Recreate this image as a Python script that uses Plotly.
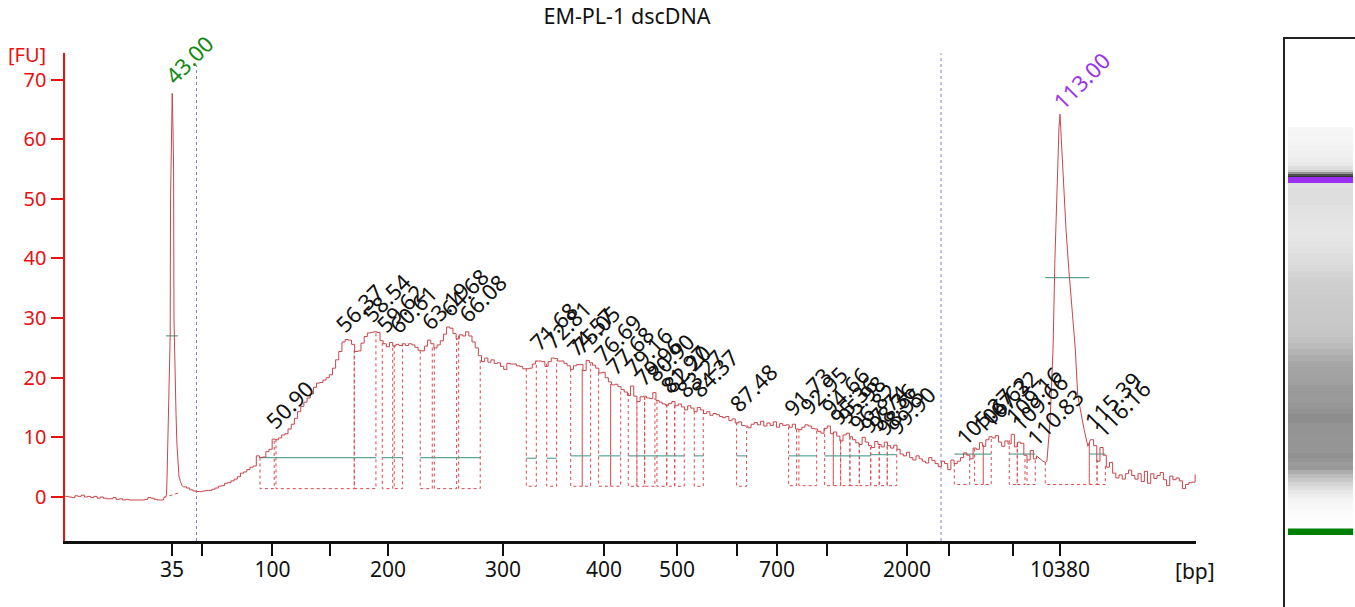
import numpy as np
import plotly.graph_objects as go

W, H = 1355, 607

# Electropherogram: migration time [s] vs fluorescence [FU]
left_step_t0, main_t0, tail_t0, grid_step = 34.6, 43.9, 115.4, 0.25

baseline_fu = [0.1,0.0,-0.1,0.2,0.1,0.3,0.0,0.1,-0.1,0.1,-0.2,0.0,-0.2,-0.3,-0.3,-0.1,
               -0.4,-0.3,-0.5,-0.4,-0.5,-0.5,-0.5,-0.5,-0.5,-0.4,-0.1,-0.2,-0.4,-0.5,-0.5,-0.2]

peak43_t  = [42.35,42.57,42.61,42.72,42.86,42.89,42.96,43.02,43.08,43.13,43.16,43.24,43.32,43.39,43.47,43.55,43.67,43.79,43.9]
peak43_fu = [-0.2,0.3,3,16,27,50,62,67.7,62,55,30,20,14,9,6,3.5,2.6,1.9,1.7]

main_fu = [
 1.7,1.5,1.2,1.0,0.9,0.9,1.0,1.1,1.1,1.3,
 1.5,1.8,1.9,2.3,2.4,2.7,3.0,3.4,4.0,4.2,
 4.6,5.0,5.2,6.9,6.6,6.7,7.6,8.0,9.7,9.6,
 9.9,10.4,10.6,11.4,12.2,13.2,14.3,15.2,15.9,16.6,
 17.3,18.4,19.1,19.2,19.6,20.0,20.5,21.6,23.0,24.4,
 26.0,26.4,26.3,25.6,24.4,24.5,25.8,26.9,27.5,27.6,
 27.7,27.6,26.2,25.7,25.2,25.9,25.3,25.6,25.4,25.7,
 25.4,25.7,25.5,25.1,24.6,24.5,25.3,26.3,25.7,25.0,
 25.5,26.2,27.3,28.5,28.3,27.4,26.5,27.2,27.0,27.7,
 27.0,26.0,25.0,23.7,22.7,23.3,22.6,23.0,22.4,22.5,
 21.9,21.4,22.4,22.3,22.3,22.0,21.9,21.5,21.5,21.6,
 22.3,22.8,22.8,22.7,21.9,22.7,23.3,23.2,22.8,22.8,
 22.4,22.0,21.4,22.0,22.2,22.2,21.2,22.9,22.5,22.1,
 21.6,20.8,20.9,20.0,19.3,18.8,18.9,18.5,18.0,17.6,
 17.0,18.6,16.9,16.0,16.8,16.9,16.6,16.5,17.5,16.2,
 15.9,15.6,15.4,15.7,16.0,15.3,15.6,15.1,14.6,15.3,
 14.9,14.3,15.0,14.6,14.0,14.3,13.7,14.0,13.8,13.5,
 13.3,13.5,12.8,13.1,12.4,12.6,12.0,11.9,11.6,12.2,
 12.5,12.1,12.7,11.9,12.4,12.0,12.6,11.7,12.3,12.0,
 12.1,11.7,12.2,11.4,11.3,11.7,12.1,11.9,11.5,11.4,
 11.0,10.7,11.5,11.9,10.6,10.9,10.2,9.4,10.4,10.7,
 10.1,9.6,9.1,8.8,10.0,9.2,8.6,8.3,9.3,8.8,
 8.4,9.2,8.6,8.2,8.7,8.0,7.2,6.9,7.5,6.6,
 6.2,6.9,6.4,6.0,5.7,6.6,6.1,5.6,5.1,6.0,
 5.6,4.6,6.2,5.6,6.0,6.6,7.4,7.0,6.4,8.2,
 8.0,9.1,8.5,9.6,10.1,9.9,10.3,9.2,8.5,9.4,
 8.9,10.5,8.4,9.2,9.0,7.0,6.2,7.8,6.4,6.9,
]

peak113_t  = [111.15,111.4,111.65,111.85,111.97,112.21,112.45,112.6,112.76,112.92,113.0,113.15,113.3,113.47,113.7,113.94,114.2,114.4,114.65,114.9,115.2,115.4]
peak113_fu = [6.9,6.4,6.0,5.8,6.0,12.5,24.7,40,52,62,64.2,58,50,45,38,31,25,17,14,11.3,8.5,9.6]

tail_fu = [9.6,8.6,6.0,8.3,7.0,5.0,5.8,4.0,3.2,3.7,3.0,3.9,4.5,3.6,3.0,3.9,2.6,4.3,2.3,3.9,
           3.1,3.6,4.1,2.9,1.9,3.5,2.9,3.2,2.7,1.4,2.1,2.4,2.5,3.8]

# Peak table
peak_times = [43.00,50.90,56.37,58.54,59.62,60.61,63.19,64.68,66.08,71.68,72.81,74.57,75.05,76.69,77.68,
              79.16,79.96,80.90,81.97,82.20,83.27,84.37,87.48,91.73,92.95,94.66,95.36,95.98,96.82,97.74,
              98.36,98.95,99.90,105.27,106.62,107.32,109.16,109.66,110.83,113.00,115.39,116.16]

win_start = [49.94,51.2,57.37,59.58,60.52,62.57,63.68,65.6,
             70.93,72.54,74.43,75.34,76.63,77.58,78.97,79.65,80.26,81.23,82.0,82.63,84.17,87.51,
             91.61,92.42,94.45,95.13,95.71,96.44,97.18,98.08,98.75,99.38,
             104.67,106.27,106.95,109.0,109.63,110.4,111.84,115.31,115.92]
win_end   = [51.06,57.37,59.08,60.4,61.18,63.52,65.44,67.3,
             71.72,73.32,75.34,76.0,77.58,78.37,79.65,80.26,81.07,82.0,82.63,83.38,84.88,88.3,
             92.24,93.82,95.13,95.71,96.44,97.18,98.08,98.75,99.38,100.13,
             105.88,106.95,107.58,109.63,110.24,111.05,115.31,115.92,116.57]
win_floor = [1.4]*8 + [1.8]*14 + [1.9]*10 + [2.1]*9

half_start = [42.53,49.94,59.58,62.57,70.93,72.54,74.43,76.63,78.97,84.17,87.51,91.61,94.45,98.08,104.67,109.0,111.84,115.31]
half_end   = [43.47,59.08,61.18,67.3,71.72,73.32,76.0,78.37,83.38,84.88,88.3,93.82,98.08,100.13,107.58,111.05,115.31,116.57]
half_level = [27,6.6,6.6,6.6,6.5,6.5,6.9,6.9,6.9,6.9,6.9,6.9,6.9,7.1,7.2,7.2,36.8,7.2]

marker_t = [44.93,103.62]
marker_top = [72.4,74.4]

tick_t = [43,45.36,50.92,55.45,60.03,69.09,77.05,82.81,87.54,90.69,94.63,100.94,104.25,109.29,113]
tick_bp = ["35","","100","","200","300","400","500","","700","","2000","","","10380"]

# Gel lane
lane_pos = [130,136,142,148,154,160,164,168,171,173,175,176.5,185,190,196,202,208,214,220,226,232,238,244,250,256,
            262,268,274,280,286,292,298,304,310,316,322,328,334,340,346,352,358,364,370,376,382,388,394,400,406,
            412,416,420,426,432,438,444,450,455,460,464,468,472,476,480,484,488,492,496,500,506,512,518,525]
lane_grey = [246,245,244,242,240,237,232,222,205,150,80,55,224,221,222,221,225,226,228,228,230,229,228,226,222,
             220,216,213,208,206,205,203,202,201,201,200,199,197,193,188,180,172,166,163,162,160,155,153,154,150,
             146,140,142,148,148,150,149,150,144,150,156,152,172,188,200,212,222,232,238,244,247,250,252,253]

time_axis = np.concatenate([
    left_step_t0 + grid_step*np.arange(len(baseline_fu)), peak43_t[1:],
    main_t0 + grid_step*np.arange(len(main_fu))[1:], peak113_t[1:],
    tail_t0 + grid_step*np.arange(len(tail_fu))[1:]])
fu = np.concatenate([baseline_fu, peak43_fu[1:], main_fu[1:], peak113_fu[1:], tail_fu[1:]])

TRACE = "#c8464b"
DOT = "#d9474c"
FONT = "Noto Sans"

fig = go.Figure()

# Windows
wx, wy = [], []
for s, e, b in zip(win_start, win_end, win_floor):
    wx += [s, s, e, e, None]
    wy += [float(np.interp(s, time_axis, fu)), b, b, float(np.interp(e, time_axis, fu)), None]
fig.add_trace(go.Scatter(x=wx, y=wy, mode="lines", line=dict(color=DOT, width=1, dash="dot"), hoverinfo="skip"))

# baseline hint under lower marker
fig.add_trace(go.Scatter(x=[42.35, 43.55], y=[-0.1, 0.7], mode="lines",
                         line=dict(color=DOT, width=1, dash="dot"), hoverinfo="skip"))

# half-height lines
hx, hy = [], []
for s, e, l in zip(half_start, half_end, half_level):
    hx += [s, e, None]
    hy += [l, l, None]
fig.add_trace(go.Scatter(x=hx, y=hy, mode="lines", line=dict(color="#5aa596", width=1.2), hoverinfo="skip"))

# marker lines
for t, top in zip(marker_t, marker_top):
    fig.add_trace(go.Scatter(x=[t, t], y=[-7.38, top], mode="lines",
                             line=dict(color="#8080bd", width=1, dash="dot"), hoverinfo="skip"))

# Trace: stepped detector samples, peaks as straight segments
grid_left = left_step_t0 + grid_step*np.arange(len(baseline_fu))
grid_main = main_t0 + grid_step*np.arange(len(main_fu))
grid_tail = tail_t0 + grid_step*np.arange(len(tail_fu))
for xs, ys, shape in [(grid_left, baseline_fu, "hv"), (peak43_t, peak43_fu, "linear"),
                      (grid_main, main_fu, "hv"), (peak113_t, peak113_fu, "linear"),
                      (grid_tail, tail_fu, "hv")]:
    fig.add_trace(go.Scatter(x=xs, y=ys, mode="lines", line=dict(color=TRACE, width=1, shape=shape), hoverinfo="skip"))

# Peak labels
for t in peak_times:
    col = "#118a11" if t == 43.0 else ("#9a33ee" if t == 113.0 else "#111111")
    lift = 12 if t == 43.0 else (-4 if t == 113.0 else 2)
    fig.add_annotation(x=t, y=float(np.interp(t, time_axis, fu)), text=f"{t:.2f}", textangle=-45,
                       xanchor="left", yanchor="bottom", xshift=-16, yshift=lift, showarrow=False,
                       font=dict(size=22, color=col, family=FONT))

# Lane
fig.add_trace(go.Heatmap(x0=35.5, dx=65, y=lane_pos, z=[[v] for v in lane_grey], xaxis="x2", yaxis="y2",
                         colorscale=[[0, "#000000"], [1, "#ffffff"]], zmin=0, zmax=255,
                         showscale=False, hoverinfo="skip"))

fig.add_annotation(text="[FU]", xref="paper", yref="paper", x=27/W, y=1-54/H, xanchor="center", yanchor="middle",
                   showarrow=False, font=dict(size=20, color="#e81010", family=FONT))
fig.add_annotation(text="[bp]", xref="paper", yref="paper", x=1195/W, y=1-571/H, xanchor="center", yanchor="middle",
                   showarrow=False, font=dict(size=21, color="#111111", family=FONT))

fig.update_layout(
    width=W, height=H, margin=dict(l=0, r=0, t=0, b=0), paper_bgcolor="white", plot_bgcolor="white",
    showlegend=False,
    title=dict(text="EM-PL-1 dscDNA", x=627/W, xanchor="center", y=1-16/H, yanchor="middle",
               font=dict(size=21.5, color="#111111", family=FONT)),
    xaxis=dict(domain=[64.5/W, 1196/W], range=[34.53, 123.72], tickmode="array", tickvals=tick_t, ticktext=tick_bp,
               ticks="outside", ticklen=12, tickwidth=2, tickcolor="#111111", showline=True, linecolor="#111111",
               linewidth=2.5, showgrid=False, zeroline=False, ticklabelstandoff=-4,
               tickfont=dict(size=21, color="#111111", family=FONT)),
    yaxis=dict(domain=[(H-541)/H, (H-53)/H], range=[-7.38, 74.45], tickmode="array", tickvals=[0,10,20,30,40,50,60,70],
               ticks="outside", ticklen=12, tickwidth=2, tickcolor="#e81010", showline=True, linecolor="#e81010",
               linewidth=2, showgrid=False, zeroline=False, tickfont=dict(size=20, color="#e81010", family=FONT)),
    xaxis2=dict(domain=[1285/W, 1], range=[0, 70], anchor="y2", side="top", showline=True, linecolor="#222222", linewidth=2,
                showticklabels=False, ticks="", showgrid=False, zeroline=False),
    yaxis2=dict(domain=[0, (H-39)/H], range=[607, 39], anchor="x2", showline=True, linecolor="#222222", linewidth=2,
                showticklabels=False, ticks="", showgrid=False, zeroline=False),
    shapes=[
        dict(type="rect", xref="x2", yref="y2", x0=3, x1=68, y0=177, y1=183, fillcolor="#9b30f0", line_width=0, layer="above"),
        dict(type="rect", xref="x2", yref="y2", x0=3, x1=68, y0=528.5, y1=535, fillcolor="#008000", line_width=0, layer="above"),
    ],
)

fig.write_html("out.html", config={"displayModeBar": False}, post_script="document.body.style.margin='0';")
